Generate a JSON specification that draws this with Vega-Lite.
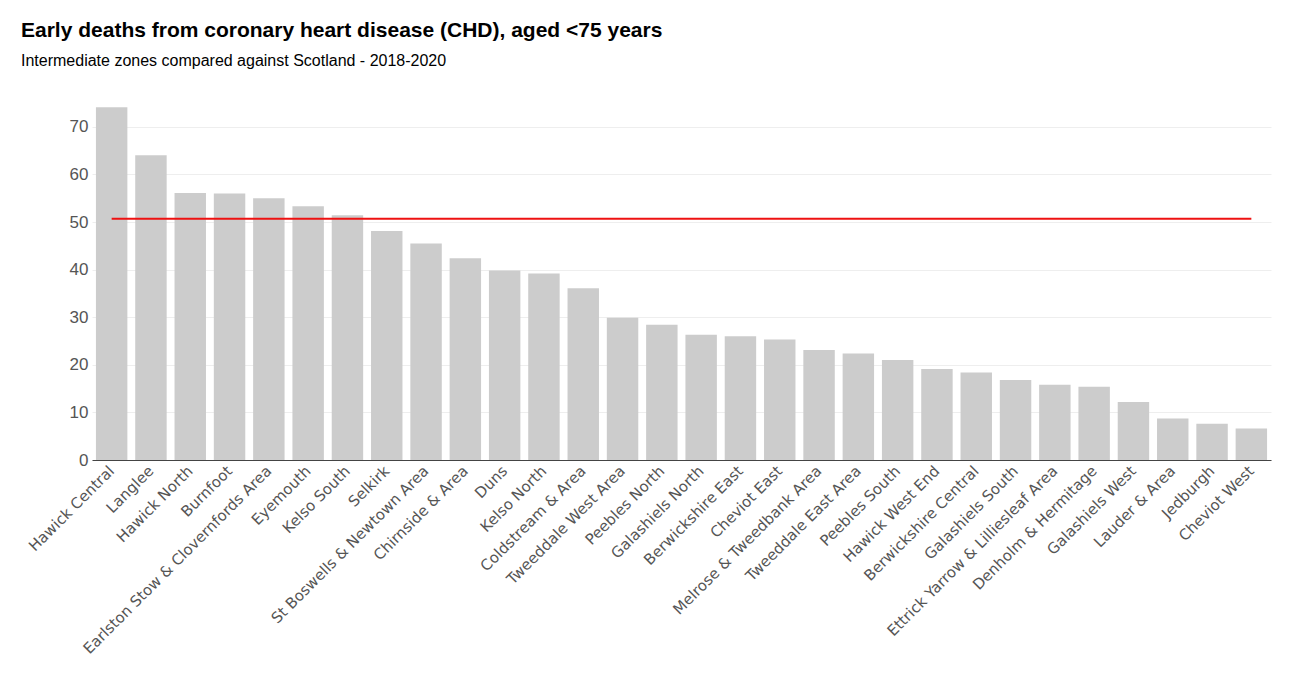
{
  "$schema": "https://vega.github.io/schema/vega-lite/v6.json",
  "autosize": {"type": "none"},
  "width": 1179,
  "height": 357,
  "padding": {"left": 92, "top": 103, "right": 22, "bottom": 213},
  "background": "white",
  "title": {
    "text": "Early deaths from coronary heart disease (CHD), aged <75 years",
    "subtitle": "Intermediate zones compared against Scotland - 2018-2020",
    "anchor": "start",
    "frame": "group",
    "dx": -71,
    "offset": 34,
    "font": "Liberation Sans",
    "fontSize": 21,
    "fontWeight": "bold",
    "color": "#000000",
    "subtitleFont": "Liberation Sans",
    "subtitleFontSize": 16,
    "subtitleColor": "#000000",
    "subtitlePadding": 12
  },
  "data": {
    "values": [
      {"zone": "Hawick Central", "rate": 74.1, "scotland": 50.66},
      {"zone": "Langlee", "rate": 64.0, "scotland": 50.66},
      {"zone": "Hawick North", "rate": 56.1, "scotland": 50.66},
      {"zone": "Burnfoot", "rate": 56.0, "scotland": 50.66},
      {"zone": "Earlston Stow & Clovernfords Area", "rate": 55.0, "scotland": 50.66},
      {"zone": "Eyemouth", "rate": 53.3, "scotland": 50.66},
      {"zone": "Kelso South", "rate": 51.4, "scotland": 50.66},
      {"zone": "Selkirk", "rate": 48.1, "scotland": 50.66},
      {"zone": "St Boswells & Newtown Area", "rate": 45.5, "scotland": 50.66},
      {"zone": "Chirnside & Area", "rate": 42.4, "scotland": 50.66},
      {"zone": "Duns", "rate": 39.8, "scotland": 50.66},
      {"zone": "Kelso North", "rate": 39.2, "scotland": 50.66},
      {"zone": "Coldstream & Area", "rate": 36.1, "scotland": 50.66},
      {"zone": "Tweeddale West Area", "rate": 29.9, "scotland": 50.66},
      {"zone": "Peebles North", "rate": 28.4, "scotland": 50.66},
      {"zone": "Galashiels North", "rate": 26.3, "scotland": 50.66},
      {"zone": "Berwickshire East", "rate": 26.0, "scotland": 50.66},
      {"zone": "Cheviot East", "rate": 25.3, "scotland": 50.66},
      {"zone": "Melrose & Tweedbank Area", "rate": 23.1, "scotland": 50.66},
      {"zone": "Tweeddale East Area", "rate": 22.4, "scotland": 50.66},
      {"zone": "Peebles South", "rate": 21.0, "scotland": 50.66},
      {"zone": "Hawick West End", "rate": 19.1, "scotland": 50.66},
      {"zone": "Berwickshire Central", "rate": 18.4, "scotland": 50.66},
      {"zone": "Galashiels South", "rate": 16.8, "scotland": 50.66},
      {"zone": "Ettrick Yarrow & Lilliesleaf Area", "rate": 15.8, "scotland": 50.66},
      {"zone": "Denholm & Hermitage", "rate": 15.4, "scotland": 50.66},
      {"zone": "Galashiels West", "rate": 12.2, "scotland": 50.66},
      {"zone": "Lauder & Area", "rate": 8.7, "scotland": 50.66},
      {"zone": "Jedburgh", "rate": 7.6, "scotland": 50.66},
      {"zone": "Cheviot West", "rate": 6.6, "scotland": 50.66}
    ]
  },
  "encoding": {
    "x": {
      "field": "zone",
      "type": "nominal",
      "sort": null,
      "scale": {"paddingInner": 0.2, "paddingOuter": 0.1},
      "axis": {
        "title": null,
        "labelAngle": -45,
        "labelAlign": "right",
        "labelBaseline": "middle",
        "labelFont": "DejaVu Sans",
        "labelFontSize": 15,
        "labelColor": "#555555",
        "labelLimit": 0,
        "labelPadding": 8,
        "ticks": false,
        "domainColor": "#444444",
        "domainWidth": 1,
        "grid": false
      }
    }
  },
  "layer": [
    {
      "mark": {"type": "bar", "color": "#cccccc"},
      "encoding": {
        "y": {
          "field": "rate",
          "type": "quantitative",
          "scale": {"domain": [0, 75], "nice": false},
          "axis": {
            "title": null,
            "values": [0, 10, 20, 30, 40, 50, 60, 70],
            "domain": false,
            "ticks": false,
            "labelFont": "Liberation Sans",
            "labelFontSize": 17,
            "labelColor": "#555555",
            "labelPadding": 4,
            "gridColor": "#eeeeee",
            "gridWidth": 1
          }
        }
      }
    },
    {
      "mark": {"type": "line", "color": "#ee1111", "strokeWidth": 2},
      "encoding": {
        "y": {"field": "scotland", "type": "quantitative"}
      }
    }
  ],
  "config": {"view": {"stroke": null}}
}
